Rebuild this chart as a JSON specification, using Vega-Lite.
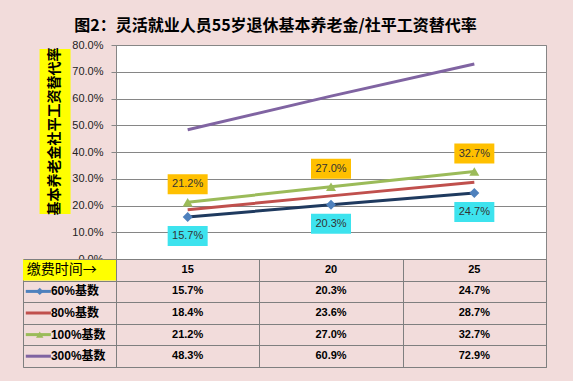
{
  "$schema": "https://vega.github.io/schema/vega-lite/v6.json",
  "background": "#F2DCDB",
  "padding": {"left": 22, "top": 17, "right": 28, "bottom": 15},
  "autosize": {"type": "pad"},
  "title": {"text": "图2：灵活就业人员55岁退休基本养老金/社平工资替代率", "font": "Noto Sans CJK SC", "fontSize": 16, "fontWeight": "bold", "color": "#000000", "anchor": "middle", "dx": -9, "offset": 5},
  "datasets": {
    "d": [
      {"series": "60%基数", "year": "15", "value": 0.157},
      {"series": "60%基数", "year": "20", "value": 0.203},
      {"series": "60%基数", "year": "25", "value": 0.247},
      {"series": "80%基数", "year": "15", "value": 0.184},
      {"series": "80%基数", "year": "20", "value": 0.236},
      {"series": "80%基数", "year": "25", "value": 0.287},
      {"series": "100%基数", "year": "15", "value": 0.212},
      {"series": "100%基数", "year": "20", "value": 0.270},
      {"series": "100%基数", "year": "25", "value": 0.327},
      {"series": "300%基数", "year": "15", "value": 0.483},
      {"series": "300%基数", "year": "20", "value": 0.609},
      {"series": "300%基数", "year": "25", "value": 0.729}
    ]
  },
  "columns": 2,
  "spacing": 0,
  "bounds": "flush",
  "resolve": {"scale": {"x": "independent", "y": "independent"}},
  "concat": [
    {
      "width": 93, "height": 214,
      "data": {"values": [{"t": "基本养老金社平工资替代率"}]},
      "encoding": {
        "x": {"field": "t", "type": "nominal", "axis": null, "scale": {"type": "band", "paddingInner": 0, "paddingOuter": 2.083, "align": 0.267}},
        "y": {"field": "t", "type": "nominal", "axis": null, "scale": {"type": "band", "paddingInner": 0, "paddingOuter": 0.1485, "align": 0.08}}
      },
      "layer": [
        {"mark": {"type": "rect", "fill": "#FFFF00"}},
        {"mark": {"type": "text", "angle": 270, "font": "Noto Sans CJK SC", "fontSize": 14, "fontWeight": "bold", "color": "#000000"}, "encoding": {"text": {"field": "t"}}}
      ]
    },
    {
      "width": 430, "height": 214,
      "view": {"fill": "#FFFFFF", "stroke": "#868686"},
      "data": {"name": "d"},
      "encoding": {
        "x": {"field": "year", "type": "ordinal", "scale": {"type": "point", "domain": ["15", "20", "25"], "padding": 0.5}, "axis": null},
        "y": {"field": "value", "type": "quantitative", "scale": {"domain": [0, 0.8], "nice": false}, "axis": {"values": [0, 0.1, 0.2, 0.3, 0.4, 0.5, 0.6, 0.7, 0.8], "format": ".1%", "title": null, "grid": true, "gridColor": "#868686", "gridOpacity": 1, "domainColor": "#868686", "tickColor": "#868686", "tickSize": 5, "labelFontSize": 11, "labelFont": "Liberation Sans", "labelColor": "#222222", "labelPadding": 8}}
      },
      "layer": [
        {"mark": {"type": "line", "strokeWidth": 3}, "encoding": {"stroke": {"field": "series", "type": "nominal", "scale": {"domain": ["60%基数", "80%基数", "100%基数", "300%基数"], "range": ["#1F3A5F", "#C0504D", "#9BBB59", "#8064A2"]}, "legend": null}}},
        {"transform": [{"filter": "datum.series === '60%基数' || datum.series === '100%基数'"}], "mark": {"type": "point", "filled": true, "size": 100, "opacity": 1}, "encoding": {"fill": {"field": "series", "type": "nominal", "scale": {"domain": ["60%基数", "80%基数", "100%基数", "300%基数"], "range": ["#4F81BD", "#C0504D", "#9BBB59", "#8064A2"]}, "legend": null}, "shape": {"field": "series", "type": "nominal", "scale": {"domain": ["60%基数", "100%基数"], "range": ["diamond", "triangle-up"]}, "legend": null}}},
        {"transform": [{"filter": "datum.series === '100%基数'"}], "mark": {"type": "point", "shape": "M-1,-0.5H1V0.5H-1Z", "size": 1600, "filled": true, "fill": "#FFC000", "opacity": 1, "yOffset": -18}},
        {"transform": [{"filter": "datum.series === '100%基数'"}], "mark": {"type": "text", "yOffset": -18, "fontSize": 11, "font": "Liberation Sans", "color": "#333333"}, "encoding": {"text": {"field": "value", "type": "quantitative", "format": ".1%"}}},
        {"transform": [{"filter": "datum.series === '60%基数'"}], "mark": {"type": "point", "shape": "M-1,-0.5H1V0.5H-1Z", "size": 1600, "filled": true, "fill": "#3DE3EE", "opacity": 1, "yOffset": 19}},
        {"transform": [{"filter": "datum.series === '60%基数'"}], "mark": {"type": "text", "yOffset": 19, "fontSize": 11, "font": "Liberation Sans", "color": "#333333"}, "encoding": {"text": {"field": "value", "type": "quantitative", "format": ".1%"}}}
      ]
    },
    {
      "width": 93, "height": 108,
      "view": {"stroke": "#7F7F7F"},
      "encoding": {
        "y": {"field": "series", "type": "nominal", "scale": {"domain": ["缴费时间→", "60%基数", "80%基数", "100%基数", "300%基数"], "paddingInner": 0, "paddingOuter": 0}, "axis": {"grid": true, "tickBand": "extent", "labels": false, "ticks": false, "domain": false, "title": null, "gridColor": "#7F7F7F", "gridOpacity": 1}}
      },
      "layer": [
        {"data": {"values": [{"series": "缴费时间→"}]}, "mark": {"type": "rect", "fill": "#FFFF00"}},
        {"data": {"values": [{"series": "缴费时间→"}]}, "mark": {"type": "text", "align": "left", "font": "Noto Sans CJK SC", "fontSize": 14, "color": "#000000"}, "encoding": {"x": {"datum": 0.04, "type": "quantitative", "scale": {"domain": [0, 1], "nice": false}, "axis": null}, "text": {"field": "series"}}},
        {"data": {"name": "d"}, "transform": [{"filter": "datum.year === '15'"}], "mark": {"type": "rule", "strokeWidth": 3}, "encoding": {"x": {"datum": 0.03, "type": "quantitative", "scale": {"domain": [0, 1], "nice": false}, "axis": null}, "x2": {"datum": 0.3}, "color": {"field": "series", "type": "nominal", "scale": {"domain": ["60%基数", "80%基数", "100%基数", "300%基数"], "range": ["#4F81BD", "#C0504D", "#9BBB59", "#8064A2"]}, "legend": null}}},
        {"data": {"name": "d"}, "transform": [{"filter": "datum.year === '15' && (datum.series === '60%基数' || datum.series === '100%基数')"}], "mark": {"type": "point", "filled": true, "size": 55, "opacity": 1}, "encoding": {"x": {"datum": 0.18, "type": "quantitative", "scale": {"domain": [0, 1], "nice": false}, "axis": null}, "fill": {"field": "series", "type": "nominal", "legend": null}, "shape": {"field": "series", "type": "nominal", "legend": null}}},
        {"data": {"name": "d"}, "transform": [{"filter": "datum.year === '15'"}], "mark": {"type": "text", "align": "left", "fontWeight": "bold", "fontSize": 12, "font": "Liberation Sans, Noto Sans CJK SC", "color": "#000000"}, "encoding": {"x": {"datum": 0.3, "type": "quantitative", "scale": {"domain": [0, 1], "nice": false}, "axis": null}, "text": {"field": "series"}}}
      ]
    },
    {
      "width": 430, "height": 108,
      "view": {"stroke": "#7F7F7F"},
      "data": {"name": "d"},
      "encoding": {
        "x": {"field": "year", "type": "ordinal", "scale": {"type": "band", "domain": ["15", "20", "25"], "paddingInner": 0, "paddingOuter": 0}, "axis": {"grid": true, "tickBand": "extent", "labels": false, "ticks": false, "domain": false, "title": null, "gridColor": "#7F7F7F", "gridOpacity": 1}},
        "y": {"field": "series", "type": "nominal", "scale": {"domain": ["缴费时间→", "60%基数", "80%基数", "100%基数", "300%基数"], "paddingInner": 0, "paddingOuter": 0}, "axis": {"grid": true, "tickBand": "extent", "labels": false, "ticks": false, "domain": false, "title": null, "gridColor": "#7F7F7F", "gridOpacity": 1}}
      },
      "layer": [
        {"mark": {"type": "text", "fontWeight": "bold", "fontSize": 11, "font": "Liberation Sans", "color": "#000000"}, "encoding": {"text": {"field": "value", "type": "quantitative", "format": ".1%"}}},
        {"transform": [{"filter": "datum.series === '60%基数'"}], "mark": {"type": "text", "fontWeight": "bold", "fontSize": 11, "font": "Liberation Sans", "color": "#000000"}, "encoding": {"y": {"datum": "缴费时间→", "type": "nominal"}, "text": {"field": "year"}}}
      ]
    }
  ],
  "config": {"view": {"stroke": null}, "font": "Liberation Sans"}
}
